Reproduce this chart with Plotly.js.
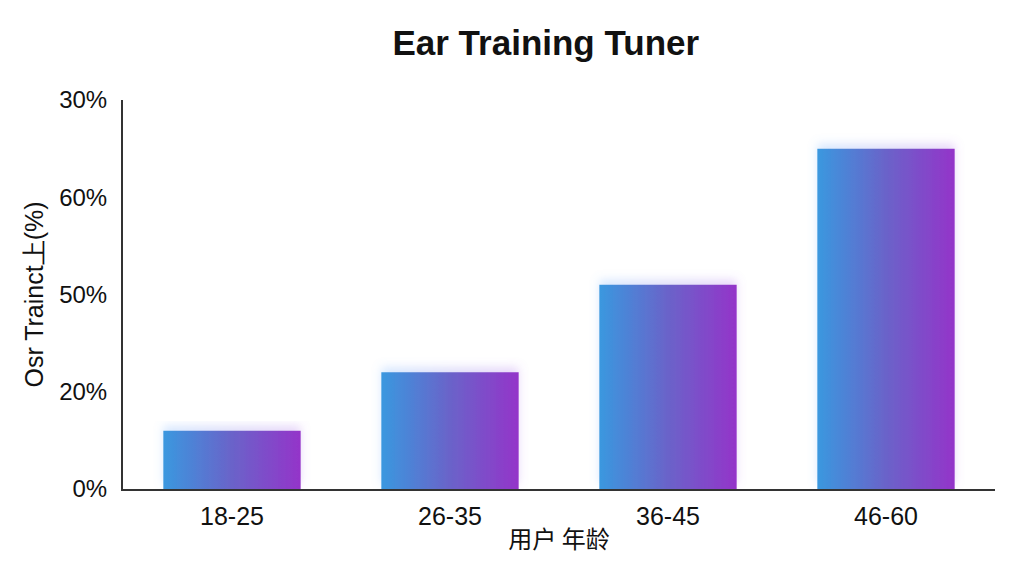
<!DOCTYPE html>
<html>
<head>
<meta charset="utf-8">
<script src="https://cdn.plot.ly/plotly-3.0.1.min.js"></script>
<style>
  html, body { margin: 0; padding: 0; background: #fff; }
  #chart { width: 1024px; height: 576px; }
</style>
</head>
<body>
<div id="chart"></div>
<script>
// data
var ageGroups = ['18-25', '26-35', '36-45', '46-60'];
var shareValues = [6, 12, 21, 35];
var yTickVals = [0, 10, 20, 30, 40];
var yTickText = ['0%', '20%', '50%', '60%', '30%'];

var trace = {
	type: 'bar',
	x: ageGroups,
	y: shareValues,
	width: 0.63,
	marker: { color: '#6a5ad0', line: { width: 0 } },
	hoverinfo: 'x+y'
};

var layout = {
	width: 1024,
	height: 576,
	margin: { l: 123, r: 29, t: 100, b: 87 },
	paper_bgcolor: '#ffffff',
	plot_bgcolor: '#ffffff',
	font: { family: 'Liberation Sans, Arial, sans-serif', color: '#111', size: 24 },
	title: {
		text: '<b>Ear Training Tuner</b>',
		font: { size: 35, color: '#111' },
		x: 0.533, xanchor: 'center',
		y: 0.925, yanchor: 'middle'
	},
	showlegend: false,
	xaxis: {
		showline: true, linecolor: '#333', linewidth: 2,
		showgrid: false, zeroline: false, ticks: '',
		tickfont: { size: 25 },
		ticklabelstandoff: 4,
		title: { text: '用户 年龄', font: { size: 24, family: 'Noto Sans CJK SC, sans-serif' }, standoff: 2 }
	},
	yaxis: {
		range: [0, 40],
		showline: true, linecolor: '#333', linewidth: 2,
		showgrid: false, zeroline: false, ticks: '',
		tickmode: 'array', tickvals: yTickVals, ticktext: yTickText,
		tickfont: { size: 24 },
		ticklabelstandoff: 9,
		title: { text: 'Osr Trainct上(%)', font: { size: 25 }, standoff: 8 }
	}
};

Plotly.newPlot('chart', [trace], layout, { displayModeBar: false, staticPlot: true }).then(function (gd) {
	// horizontal blue -> purple gradient and soft glow on bars
	var svg = gd.querySelector('svg.main-svg');
	var ns = 'http://www.w3.org/2000/svg';
	var defs = svg.querySelector('defs') || svg.insertBefore(document.createElementNS(ns, 'defs'), svg.firstChild);

	var grad = document.createElementNS(ns, 'linearGradient');
	grad.setAttribute('id', 'barGrad');
	grad.setAttribute('x1', '0'); grad.setAttribute('y1', '0');
	grad.setAttribute('x2', '1'); grad.setAttribute('y2', '0');
	[['0', '#3a98df'], ['0.5', '#6a63c9'], ['1', '#9434c9']].forEach(function (s) {
		var st = document.createElementNS(ns, 'stop');
		st.setAttribute('offset', s[0]);
		st.setAttribute('stop-color', s[1]);
		grad.appendChild(st);
	});
	defs.appendChild(grad);

	var filt = document.createElementNS(ns, 'filter');
	filt.setAttribute('id', 'barGlow');
	filt.setAttribute('x', '-10%'); filt.setAttribute('y', '-15%');
	filt.setAttribute('width', '120%'); filt.setAttribute('height', '130%');
	filt.innerHTML =
		'<feGaussianBlur in="SourceGraphic" stdDeviation="5" result="b"/>' +
		'<feOffset in="b" dy="-5" result="o"/>' +
		'<feColorMatrix in="o" type="matrix" values="1 0 0 0 0.15  0 1 0 0 0.15  0 0 1 0 0.25  0 0 0 0.3 0" result="g"/>' +
		'<feMerge><feMergeNode in="g"/><feMergeNode in="SourceGraphic"/></feMerge>';
	defs.appendChild(filt);

	gd.querySelectorAll('.barlayer .point path').forEach(function (p) {
		p.style.fill = 'url(#barGrad)';
		p.setAttribute('filter', 'url(#barGlow)');
	});
});
</script>
</body>
</html>
